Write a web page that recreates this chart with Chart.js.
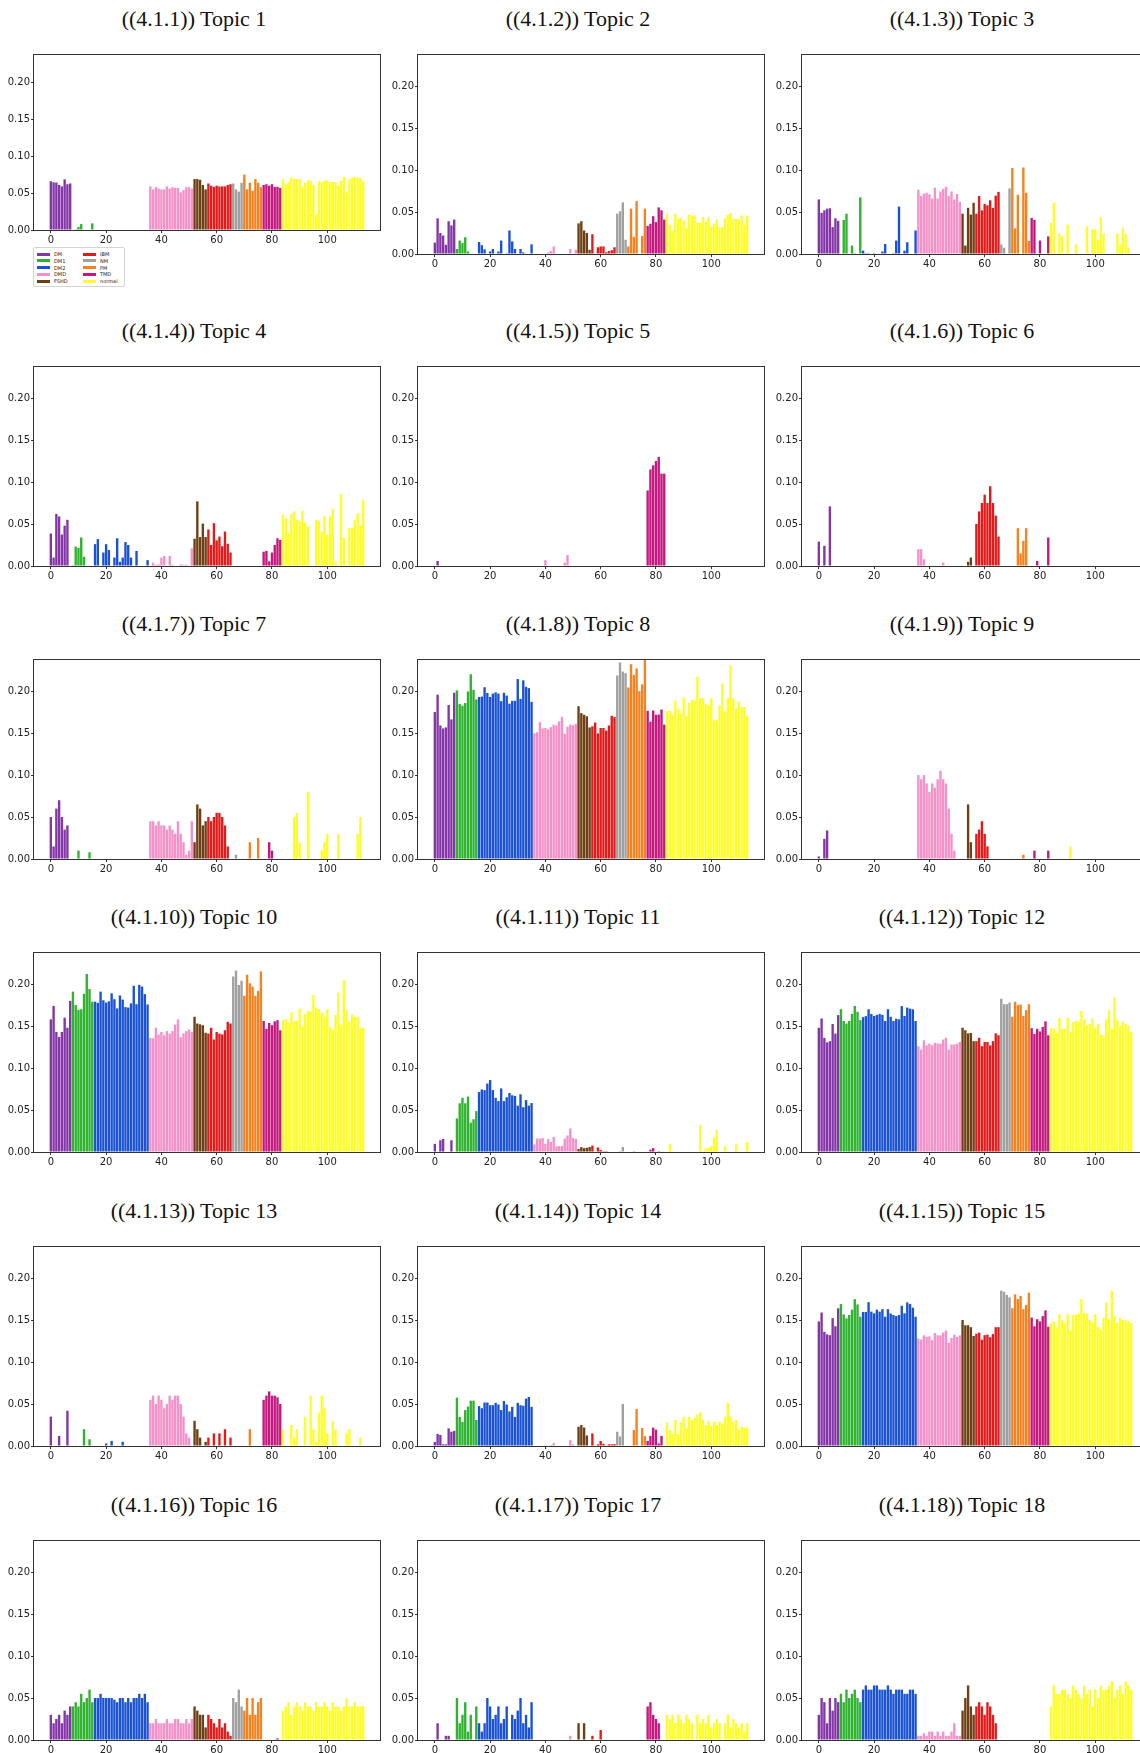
<!DOCTYPE html>
<html>
<head>
<meta charset="utf-8">
<script src="https://cdn.jsdelivr.net/npm/chart.js@4.4.1/dist/chart.umd.min.js"></script>
<style>
  html, body { margin: 0; padding: 0; background: #fff; overflow: hidden; }
  body { position: relative; width: 1140px; height: 1753px; }
  canvas { position: absolute; }
  .title {
    position: absolute; white-space: nowrap; transform: translate(-50%, -50%);
    font-family: 'Liberation Serif', 'DejaVu Serif', serif; font-size: 22px; color: #111;
  }
  .legend {
    position: absolute; left: 33px; top: 247px; width: 92px; height: 40px;
    border: 1px solid #d4d4d4; border-radius: 2px; box-sizing: border-box; background: #fff;
  }
  .legend .sw { position: absolute; width: 13px; height: 3px; }
  .legend .lb {
    position: absolute; font-family: 'DejaVu Sans', sans-serif; font-size: 5px; line-height: 6px; color: #222;
  }
</style>
</head>
<body>
<script>
// ── categories / tick labels ──
const GROUPS      = ['DM', 'DM1', 'DM2', 'DMD', 'FSHD', 'IBM', 'NM', 'PM', 'TMD', 'normal'];
const GROUP_SIZES = [8, 8, 20, 16, 5, 9, 4, 7, 7, 30];
const X_TICKS = [0, 20, 40, 60, 80, 100];
const Y_TICKS = [0, 0.05, 0.10, 0.15, 0.20];
const TITLES = [
  '((4.1.1)) Topic 1', '((4.1.2)) Topic 2', '((4.1.3)) Topic 3',
  '((4.1.4)) Topic 4', '((4.1.5)) Topic 5', '((4.1.6)) Topic 6',
  '((4.1.7)) Topic 7', '((4.1.8)) Topic 8', '((4.1.9)) Topic 9',
  '((4.1.10)) Topic 10', '((4.1.11)) Topic 11', '((4.1.12)) Topic 12',
  '((4.1.13)) Topic 13', '((4.1.14)) Topic 14', '((4.1.15)) Topic 15',
  '((4.1.16)) Topic 16', '((4.1.17)) Topic 17', '((4.1.18)) Topic 18',
];

// ── topic weights per sample (groups in GROUPS order) ──
const topic1 = [
  0.066, 0.0646, 0.0642, 0.061, 0.059, 0.0686, 0.062, 0.063,
  0, 0.001, 0.004, 0.008, 0, 0, 0, 0.009,
  0, 0, 0, 0, 0, 0, 0, 0, 0, 0, 0, 0, 0, 0, 0, 0, 0, 0, 0, 0,
  0.059, 0.055, 0.058, 0.056, 0.055, 0.055, 0.059, 0.056, 0.058, 0.057, 0.057, 0.051, 0.054, 0.058, 0.058, 0.056,
  0.069, 0.069, 0.068, 0.061, 0.055,
  0.063, 0.060, 0.0585, 0.060, 0.059, 0.059, 0.059, 0.061, 0.062,
  0.063, 0.055, 0.052, 0.064,
  0.075, 0.055, 0.064, 0.053, 0.069, 0.064, 0.058,
  0.061, 0.062, 0.060, 0.062, 0.0585, 0.0585, 0.057,
  0.069, 0.062, 0.065, 0.071, 0.069, 0.069, 0.069, 0.058, 0.064, 0.067, 0.067, 0.061, 0.021, 0.066, 0.065,
  0.067, 0.067, 0.065, 0.065, 0.065, 0.060, 0.067, 0.072, 0.051, 0.069, 0.071, 0.072, 0.071, 0.070, 0.066,
];
const topic2 = [
  0.0135, 0.0425, 0.025, 0.022, 0.011, 0.039, 0.034, 0.041,
  0.006, 0.016, 0.013, 0.020, 0.003, 0, 0, 0,
  0.0143, 0.0105, 0.0055, 0, 0.003, 0.006, 0, 0.003, 0.016, 0, 0.001, 0.028, 0.015, 0.006, 0, 0.006, 0.002, 0, 0, 0.0115,
  0, 0, 0, 0, 0, 0.002, 0.0035, 0.009, 0, 0, 0, 0, 0, 0.006, 0, 0.005,
  0.0365, 0.039, 0.028, 0.025, 0.005,
  0.0235, 0, 0.008, 0.009, 0.009, 0.002, 0.0035, 0.0045, 0.008,
  0.048, 0.051, 0.0615, 0.017,
  0.009, 0.054, 0.0205, 0.063, 0, 0.0215, 0.054,
  0.0335, 0.036, 0.045, 0.038, 0.0555, 0.052, 0.041,
  0.048, 0.035, 0.0275, 0.048, 0.042, 0.043, 0.040, 0.031, 0.047, 0.046, 0.046, 0.0375, 0.037, 0.044, 0.039,
  0.044, 0.033, 0.036, 0.041, 0.032, 0.032, 0.043, 0.047, 0.049, 0.042, 0.042, 0.041, 0.046, 0.035, 0.0455,
];
const topic3 = [
  0.065, 0.049, 0.052, 0.054, 0.0545, 0.032, 0.0425, 0.0395,
  0, 0.0405, 0.048, 0, 0.010, 0.001, 0, 0.0675,
  0.004, 0.001, 0.001, 0, 0.001, 0, 0, 0.003, 0.012, 0, 0, 0.001, 0.016, 0.0565, 0, 0.004, 0.014, 0, 0, 0.028,
  0.0765, 0.069, 0.072, 0.073, 0.071, 0.066, 0.079, 0.066, 0.0745, 0.0775, 0.080, 0.069, 0.0745, 0.065, 0.0715, 0.062,
  0.048, 0.010, 0.055, 0.047, 0.061,
  0.048, 0.069, 0.052, 0.0595, 0.058, 0.064, 0.055, 0.0695, 0.074,
  0.0115, 0.0075, 0, 0.078,
  0.1025, 0.0305, 0.0705, 0, 0.103, 0.073, 0.0155,
  0.043, 0.0405, 0, 0.016, 0, 0, 0.021,
  0.037, 0.061, 0, 0.0245, 0.021, 0, 0.035, 0, 0, 0.0115, 0, 0, 0, 0.033, 0,
  0.0295, 0.0295, 0.017, 0.044, 0.0245, 0, 0, 0, 0, 0.0245, 0.0115, 0.0315, 0.024, 0.0075, 0,
];
const topic4 = [
  0.0387, 0.010, 0.062, 0.059, 0.0375, 0.048, 0.055, 0,
  0.001, 0.023, 0.0215, 0.034, 0.011, 0, 0, 0,
  0.026, 0.032, 0, 0.016, 0.026, 0.019, 0, 0.010, 0.033, 0.005, 0.010, 0.0285, 0.025, 0.010, 0, 0.018, 0, 0, 0, 0.007,
  0, 0.004, 0.0015, 0.002, 0.010, 0.012, 0, 0.012, 0.0015, 0, 0, 0.002, 0.0015, 0.0015, 0, 0.021,
  0.0325, 0.077, 0.0345, 0.0505, 0.0345,
  0.0435, 0.025, 0.051, 0.0305, 0.035, 0.0235, 0.041, 0.0265, 0.016,
  0, 0, 0, 0,
  0, 0, 0, 0, 0, 0, 0,
  0.017, 0.018, 0.0055, 0.016, 0.025, 0.033, 0.031,
  0.061, 0.057, 0.0395, 0.062, 0.065, 0.055, 0.054, 0.066, 0.052, 0.047, 0, 0, 0.055, 0.054, 0.0405,
  0.060, 0.037, 0.059, 0.068, 0.0055, 0, 0.0855, 0.0335, 0, 0.0455, 0.0455, 0.055, 0.063, 0.048, 0.079,
];
const topic5 = [
  0, 0.006, 0, 0, 0, 0, 0, 0,
  0, 0, 0, 0, 0, 0, 0, 0,
  0, 0, 0, 0, 0, 0, 0, 0, 0, 0, 0, 0, 0, 0, 0, 0, 0, 0, 0, 0,
  0, 0, 0, 0, 0.007, 0, 0, 0, 0, 0, 0, 0.004, 0.013, 0, 0, 0,
  0, 0, 0, 0, 0,
  0, 0, 0, 0, 0, 0, 0, 0, 0,
  0, 0, 0, 0,
  0, 0, 0, 0, 0, 0, 0,
  0.09, 0.115, 0.12, 0.125, 0.13, 0.11, 0.11,
  0, 0, 0, 0, 0, 0, 0, 0, 0, 0, 0, 0, 0, 0, 0,
  0, 0, 0, 0, 0, 0, 0, 0, 0, 0, 0, 0, 0, 0, 0,
];
const topic6 = [
  0.029, 0, 0.024, 0, 0.071, 0, 0, 0,
  0, 0, 0, 0, 0, 0, 0, 0,
  0, 0, 0, 0, 0, 0, 0, 0, 0, 0, 0, 0, 0, 0, 0, 0, 0, 0, 0, 0,
  0.02, 0.02, 0.008, 0, 0, 0, 0, 0, 0, 0.004, 0, 0, 0, 0, 0, 0,
  0, 0, 0.005, 0.01, 0,
  0.05, 0.065, 0.075, 0.085, 0.075, 0.095, 0.075, 0.06, 0.035,
  0, 0, 0, 0,
  0, 0, 0.045, 0.015, 0.03, 0.045, 0,
  0, 0, 0.006, 0, 0, 0, 0.034,
  0, 0, 0, 0, 0, 0, 0, 0, 0, 0, 0, 0, 0, 0, 0,
  0, 0, 0, 0, 0, 0, 0, 0, 0, 0, 0, 0, 0, 0, 0,
];
const topic7 = [
  0.05, 0.015, 0.06, 0.07, 0.05, 0.035, 0.04, 0,
  0, 0, 0.01, 0, 0, 0, 0.008, 0,
  0, 0, 0, 0, 0, 0, 0, 0, 0, 0, 0, 0, 0, 0, 0, 0, 0, 0, 0, 0,
  0.045, 0.045, 0.04, 0.045, 0.04, 0.04, 0.035, 0.04, 0.035, 0.03, 0.045, 0.03, 0.02, 0.005, 0.01, 0.045,
  0.02, 0.065, 0.06, 0.04, 0.045,
  0.05, 0.045, 0.05, 0.055, 0.055, 0.05, 0.04, 0.015, 0,
  0, 0.005, 0, 0,
  0, 0, 0.02, 0, 0, 0.025, 0,
  0, 0, 0.02, 0.01, 0, 0, 0,
  0, 0, 0, 0, 0.05, 0.055, 0.02, 0, 0, 0.08, 0, 0, 0, 0, 0.01,
  0.02, 0.03, 0, 0, 0, 0.03, 0, 0, 0, 0, 0, 0, 0.03, 0.05, 0,
];
const topic8 = [
  0.175, 0.1957, 0.159, 0.1555, 0.1567, 0.1834, 0.1663, 0.198,
  0.2008, 0.1845, 0.1826, 0.1857, 0.1996, 0.220, 0.2015, 0.190,
  0.193, 0.1934, 0.2046, 0.1977, 0.193, 0.197, 0.1985, 0.197, 0.188, 0.198, 0.1946, 0.185, 0.1884, 0.1884, 0.2143, 0.1907, 0.2128, 0.205, 0.2035, 0.1872,
  0.1497, 0.151, 0.163, 0.1555, 0.156, 0.1543, 0.157, 0.160, 0.159, 0.164, 0.1694, 0.149, 0.1575, 0.160, 0.1594, 0.161,
  0.182, 0.1737, 0.1718, 0.170, 0.1567,
  0.158, 0.1625, 0.1497, 0.156, 0.156, 0.153, 0.159, 0.1706, 0.169,
  0.2186, 0.234, 0.2232, 0.2213,
  0.2043, 0.232, 0.2193, 0.227, 0.200, 0.208, 0.24,
  0.1764, 0.1636, 0.1768, 0.1718, 0.172, 0.178, 0.160,
  0.1764, 0.1764, 0.1718, 0.1888, 0.1787, 0.173, 0.1923, 0.170, 0.1857, 0.1896, 0.1884, 0.217, 0.1915, 0.1915, 0.1845,
  0.1826, 0.1915, 0.165, 0.1663, 0.1826, 0.209, 0.176, 0.1915, 0.2306, 0.1915, 0.180, 0.1876, 0.181, 0.181, 0.1706,
];
const topic9 = [
  0.003, 0, 0.024, 0.034, 0, 0, 0, 0,
  0, 0, 0, 0, 0, 0, 0, 0,
  0, 0, 0, 0, 0, 0, 0, 0, 0, 0, 0, 0, 0, 0, 0, 0, 0, 0, 0, 0,
  0.1, 0.095, 0.1, 0.09, 0.08, 0.09, 0.085, 0.095, 0.105, 0.095, 0.09, 0.06, 0.03, 0.01, 0, 0,
  0, 0, 0.065, 0.02, 0,
  0.03, 0.035, 0.045, 0.03, 0.015, 0, 0, 0, 0,
  0, 0, 0, 0,
  0, 0, 0, 0, 0.005, 0, 0,
  0, 0.01, 0, 0, 0, 0, 0.01,
  0, 0, 0, 0, 0, 0, 0, 0.015, 0, 0, 0, 0, 0, 0, 0,
  0, 0, 0, 0, 0, 0, 0, 0, 0, 0, 0, 0, 0, 0, 0,
];
const topic10 = [
  0.158, 0.174, 0.143, 0.137, 0.143, 0.160, 0.148, 0.180,
  0.191, 0.175, 0.1695, 0.170, 0.1884, 0.212, 0.194, 0.179,
  0.179, 0.1776, 0.191, 0.1807, 0.178, 0.1795, 0.189, 0.182, 0.171, 0.1865, 0.1815, 0.1726, 0.172, 0.177, 0.198, 0.176, 0.199, 0.197, 0.188, 0.1757,
  0.136, 0.1355, 0.148, 0.140, 0.143, 0.139, 0.144, 0.141, 0.144, 0.1517, 0.158, 0.1367, 0.1413, 0.144, 0.146, 0.143,
  0.161, 0.153, 0.152, 0.151, 0.142,
  0.141, 0.148, 0.134, 0.143, 0.141, 0.140, 0.145, 0.155, 0.153,
  0.209, 0.216, 0.199, 0.204,
  0.186, 0.211, 0.201, 0.197, 0.186, 0.192, 0.215,
  0.156, 0.1467, 0.1537, 0.151, 0.1556, 0.157, 0.145,
  0.1575, 0.158, 0.1537, 0.166, 0.156, 0.156, 0.1707, 0.150, 0.1645, 0.168, 0.167, 0.187, 0.172, 0.170, 0.166,
  0.161, 0.170, 0.149, 0.1455, 0.163, 0.1896, 0.1517, 0.2046, 0.1687, 0.1556, 0.164, 0.161, 0.161, 0.148, 0.148,
];
const topic11 = [
  0.0097, 0, 0.014, 0.0155, 0, 0, 0.014, 0,
  0.040, 0.058, 0.0645, 0.058, 0.066, 0.035, 0.039, 0.0487,
  0.0714, 0.0745, 0.0737, 0.0815, 0.0857, 0.0737, 0.0645, 0.0606, 0.0757, 0.0606, 0.0652, 0.0703, 0.0676, 0.0668, 0.0552, 0.0687, 0.0533, 0.0618, 0.0552, 0.0583,
  0.009, 0.016, 0.016, 0.0166, 0.0097, 0.0154, 0.012, 0.0178, 0.0066, 0.007, 0.0073, 0.016, 0.0197, 0.028, 0.0166, 0.0155,
  0.0035, 0.0058, 0.0046, 0.005, 0.006,
  0.0077, 0, 0.0054, 0.0023, 0.001, 0.001, 0, 0, 0,
  0, 0.001, 0.006, 0,
  0, 0, 0.001, 0, 0, 0, 0,
  0, 0.0027, 0.0046, 0, 0.001, 0, 0,
  0, 0.0093, 0, 0, 0, 0, 0, 0, 0, 0, 0, 0, 0.032, 0, 0.0046,
  0.0046, 0.007, 0.0174, 0.0262, 0, 0, 0.007, 0, 0, 0, 0.0093, 0, 0, 0, 0.012,
];
const topic12 = [
  0.148, 0.159, 0.136, 0.1305, 0.132, 0.1525, 0.141, 0.163,
  0.170, 0.156, 0.153, 0.156, 0.1645, 0.174, 0.167, 0.157,
  0.1606, 0.1618, 0.170, 0.1645, 0.162, 0.1633, 0.1645, 0.1633, 0.156, 0.170, 0.161, 0.156, 0.1587, 0.158, 0.1737, 0.162, 0.172, 0.1707, 0.170, 0.156,
  0.126, 0.122, 0.133, 0.127, 0.129, 0.127, 0.130, 0.1293, 0.129, 0.134, 0.136, 0.122, 0.128, 0.128, 0.129, 0.131,
  0.148, 0.145, 0.1413, 0.1417, 0.132,
  0.132, 0.136, 0.126, 0.131, 0.131, 0.127, 0.132, 0.1413, 0.139,
  0.1826, 0.176, 0.176, 0.178,
  0.161, 0.179, 0.175, 0.1757, 0.162, 0.169, 0.176,
  0.1475, 0.1405, 0.1467, 0.1436, 0.149, 0.1556, 0.139,
  0.1475, 0.147, 0.1417, 0.1595, 0.1467, 0.1467, 0.160, 0.143, 0.1544, 0.156, 0.155, 0.168, 0.1583, 0.151, 0.1525,
  0.159, 0.148, 0.1525, 0.140, 0.139, 0.158, 0.169, 0.1467, 0.184, 0.1575, 0.1506, 0.1556, 0.1525, 0.1506, 0.143,
];
const topic13 = [
  0.035, 0, 0, 0.012, 0, 0, 0.042, 0,
  0, 0, 0, 0, 0.02, 0, 0.008, 0,
  0, 0, 0, 0, 0.003, 0, 0.006, 0, 0, 0, 0.005, 0, 0, 0, 0, 0, 0, 0, 0, 0,
  0.055, 0.06, 0.05, 0.06, 0.055, 0.045, 0.05, 0.06, 0.055, 0.06, 0.06, 0.05, 0.035, 0.015, 0.01, 0,
  0.03, 0.02, 0.01, 0, 0.005,
  0.01, 0, 0.015, 0, 0.015, 0, 0.02, 0, 0.01,
  0, 0, 0, 0,
  0, 0, 0.02, 0, 0, 0, 0,
  0.055, 0.06, 0.065, 0.06, 0.06, 0.058, 0.05,
  0.02, 0, 0, 0.025, 0.01, 0.02, 0, 0, 0.035, 0, 0.06, 0.02, 0.005, 0.04, 0.06,
  0.045, 0.015, 0, 0.03, 0.02, 0, 0, 0, 0.015, 0.02, 0, 0, 0, 0.01, 0,
];
const topic14 = [
  0.0047, 0.0144, 0.0132, 0.002, 0.002, 0.021, 0.017, 0.018,
  0.0576, 0.0346, 0.0288, 0.0428, 0.047, 0.054, 0.054, 0.031,
  0.0475, 0.045, 0.0518, 0.0518, 0.0486, 0.0486, 0.0514, 0.0494, 0.0428, 0.0537, 0.0494, 0.0412, 0.0467, 0.0346, 0.0514, 0.0486, 0.048, 0.0564, 0.0584, 0.0467,
  0, 0, 0, 0, 0.001, 0, 0.001, 0.0035, 0, 0, 0, 0, 0, 0.007, 0.002, 0,
  0.023, 0.025, 0.022, 0.0125, 0,
  0.015, 0, 0.002, 0.006, 0.0027, 0, 0.002, 0.002, 0.0023,
  0.017, 0.0113, 0.050, 0,
  0, 0, 0.019, 0.044, 0, 0.0214, 0.0117,
  0.006, 0.012, 0.0218, 0.0195, 0.003, 0.012, 0,
  0.028, 0.019, 0.014, 0.031, 0.0144, 0.028, 0.0346, 0.0214, 0.0346, 0.0315, 0.0335, 0.0377, 0.0405, 0.0315, 0.025,
  0.030, 0.024, 0.029, 0.025, 0.029, 0.0265, 0.035, 0.051, 0.0354, 0.029, 0.031, 0.020, 0.0233, 0.022, 0.022,
];
const topic15 = [
  0.1484, 0.159, 0.136, 0.133, 0.132, 0.1523, 0.1426, 0.164,
  0.169, 0.1566, 0.152, 0.156, 0.1624, 0.1748, 0.1686, 0.154,
  0.1597, 0.1597, 0.1713, 0.160, 0.158, 0.1624, 0.160, 0.163, 0.154, 0.163, 0.1578, 0.156, 0.1547, 0.156, 0.167, 0.158, 0.171, 0.169, 0.1647, 0.154,
  0.128, 0.1267, 0.1318, 0.130, 0.1306, 0.126, 0.1345, 0.1318, 0.1318, 0.135, 0.1376, 0.123, 0.1287, 0.1326, 0.130, 0.1318,
  0.150, 0.1438, 0.1438, 0.1415, 0.131,
  0.1337, 0.135, 0.1267, 0.132, 0.1326, 0.1295, 0.1333, 0.1415, 0.1415,
  0.185, 0.1837, 0.180, 0.177,
  0.164, 0.1806, 0.175, 0.1787, 0.163, 0.168, 0.1826,
  0.153, 0.1426, 0.151, 0.1484, 0.1547, 0.1616, 0.142,
  0.146, 0.1484, 0.141, 0.157, 0.150, 0.1457, 0.157, 0.138, 0.156, 0.1566, 0.158, 0.175, 0.1585, 0.1574, 0.150,
  0.147, 0.157, 0.142, 0.1388, 0.153, 0.171, 0.151, 0.1845, 0.1547, 0.1465, 0.153, 0.150, 0.150, 0.1488, 0.1465,
];
const topic16 = [
  0.03, 0.02, 0.025, 0.03, 0.02, 0.035, 0.03, 0.04,
  0.04, 0.045, 0.04, 0.055, 0.045, 0.05, 0.06, 0.045,
  0.05, 0.05, 0.055, 0.05, 0.05, 0.05, 0.05, 0.048, 0.045, 0.05, 0.05, 0.045, 0.05, 0.045, 0.05, 0.05, 0.055, 0.05, 0.055, 0.045,
  0.02, 0.02, 0.025, 0.02, 0.02, 0.02, 0.025, 0.02, 0.02, 0.025, 0.025, 0.02, 0.02, 0.025, 0.02, 0.025,
  0.04, 0.035, 0.03, 0.03, 0.015,
  0.03, 0.025, 0.02, 0.015, 0.025, 0.015, 0.02, 0.01, 0.005,
  0.05, 0.045, 0.06, 0.04,
  0.035, 0.05, 0.03, 0.05, 0.03, 0.045, 0.05,
  0, 0, 0, 0, 0, 0.002, 0,
  0.035, 0.04, 0.045, 0.03, 0.04, 0.045, 0.04, 0.035, 0.045, 0.04, 0.04, 0.035, 0.045, 0.04, 0.04,
  0.045, 0.04, 0.035, 0.045, 0.04, 0.04, 0.035, 0.04, 0.05, 0.04, 0.04, 0.045, 0.04, 0.04, 0.04,
];
const topic17 = [
  0, 0.02, 0, 0, 0.005, 0.005, 0, 0,
  0.05, 0.02, 0.03, 0.045, 0.01, 0.03, 0, 0.04,
  0.02, 0.01, 0.02, 0.05, 0.04, 0.025, 0.03, 0.04, 0.02, 0.025, 0.04, 0, 0.03, 0.025, 0.035, 0.05, 0.02, 0.03, 0.015, 0.045,
  0, 0, 0, 0, 0, 0, 0, 0, 0, 0, 0, 0, 0, 0.005, 0, 0,
  0.02, 0, 0.02, 0, 0,
  0.005, 0, 0, 0.012, 0, 0, 0, 0, 0,
  0, 0, 0, 0,
  0, 0, 0, 0, 0, 0, 0,
  0.04, 0.045, 0.03, 0.025, 0.02, 0, 0,
  0.03, 0.025, 0.03, 0.02, 0.03, 0.025, 0.02, 0.03, 0.025, 0.02, 0, 0.03, 0.02, 0.025, 0.02,
  0.03, 0.015, 0.02, 0.025, 0.02, 0, 0.02, 0.03, 0.015, 0.025, 0.02, 0.015, 0.02, 0.01, 0.02,
];
const topic18 = [
  0.03, 0.05, 0.045, 0.02, 0.05, 0.035, 0.05, 0.045,
  0.055, 0.045, 0.06, 0.05, 0.055, 0.06, 0.05, 0.045,
  0.06, 0.065, 0.06, 0.06, 0.065, 0.065, 0.06, 0.06, 0.06, 0.065, 0.06, 0.055, 0.06, 0.06, 0.06, 0.055, 0.055, 0.06, 0.06, 0.055,
  0.005, 0.005, 0.008, 0.005, 0.01, 0.01, 0.005, 0.01, 0.005, 0.01, 0.005, 0.005, 0.01, 0.02, 0.005, 0.005,
  0.035, 0.05, 0.065, 0.04, 0.03,
  0.04, 0.045, 0.04, 0.03, 0.045, 0.04, 0.03, 0.02, 0,
  0, 0, 0, 0,
  0, 0, 0, 0, 0, 0, 0,
  0, 0, 0, 0, 0, 0, 0,
  0.04, 0.065, 0.055, 0.055, 0.06, 0.06, 0.055, 0.05, 0.065, 0.06, 0.055, 0.05, 0.065, 0.055, 0.06,
  0.04, 0.06, 0.05, 0.065, 0.06, 0.06, 0.065, 0.07, 0.05, 0.06, 0.065, 0.055, 0.07, 0.065, 0.06,
];
const TOPICS = [topic1, topic2, topic3, topic4, topic5, topic6, topic7, topic8, topic9,
                topic10, topic11, topic12, topic13, topic14, topic15, topic16, topic17, topic18];

// ── look ──
const GROUP_COLORS = {
  DM: '#8435a8', DM1: '#2db32d', DM2: '#1a52d6', DMD: '#f690c8', FSHD: '#6e3f12',
  IBM: '#e41a1a', NM: '#a0a0a0', PM: '#f5821f', TMD: '#c4187f', normal: '#fdfd2a',
};
const X_MIN = -6.09, X_MAX = 119.09, Y_MAX = 0.237;
const AX_LEFT = [34, 418, 802];
const AX_TOP  = [50, 362, 655, 948, 1242, 1536];
const AX_W = 346, AX_H = 204;
const Y_AXIS_W = 34, X_AXIS_H = 22, PAD = 2;

const barColors = GROUPS.flatMap((g, k) => Array(GROUP_SIZES[k]).fill(GROUP_COLORS[g]));

// spines on all four sides, like matplotlib
const framePlugin = {
  id: 'frame',
  afterDraw(chart) {
    const { ctx, chartArea: a } = chart;
    ctx.save();
    ctx.strokeStyle = '#333';
    ctx.lineWidth = 1;
    ctx.strokeRect(a.left - 0.5, a.top - 0.5, a.right - a.left + 1, a.bottom - a.top + 1);
    ctx.restore();
  },
};

const TICK_FONT = { family: "'DejaVu Sans', sans-serif", size: 10 };

function makePanel(idx) {
  const col = idx % 3, row = Math.floor(idx / 3);
  const axH = idx === 0 ? 180 : AX_H;
  const left = AX_LEFT[col], top = AX_TOP[row];

  const canvas = document.createElement('canvas');
  canvas.width  = Y_AXIS_W + AX_W + PAD;
  canvas.height = PAD + axH + X_AXIS_H;
  canvas.style.left = (left - Y_AXIS_W) + 'px';
  canvas.style.top  = (top - PAD) + 'px';
  document.body.appendChild(canvas);

  const title = document.createElement('div');
  title.className = 'title';
  title.textContent = TITLES[idx];
  title.style.left = (left + 160) + 'px';
  title.style.top  = (top - 31) + 'px';
  document.body.appendChild(title);

  new Chart(canvas, {
    type: 'bar',
    data: {
      datasets: [{
        data: TOPICS[idx].map((v, i) => ({ x: i, y: v })),
        backgroundColor: barColors,
        borderWidth: 0,
        barPercentage: 0.86,
        categoryPercentage: 1,
      }],
    },
    options: {
      responsive: false,
      animation: false,
      devicePixelRatio: 1,
      layout: { padding: { top: PAD, right: PAD, left: 0, bottom: 0 } },
      plugins: { legend: { display: false }, tooltip: { enabled: false } },
      scales: {
        x: {
          type: 'linear', min: X_MIN, max: X_MAX, offset: false,
          grid: { display: true, drawOnChartArea: false, drawTicks: true, tickLength: 3, color: '#333', offset: false },
          border: { display: false },
          ticks: { font: TICK_FONT, color: '#222', padding: 1, maxRotation: 0, autoSkip: false, callback: v => String(v) },
          afterBuildTicks: ax => { ax.ticks = X_TICKS.map(v => ({ value: v })); },
          afterFit: ax => { ax.height = X_AXIS_H; },
        },
        y: {
          min: 0, max: Y_MAX,
          grid: { display: true, drawOnChartArea: false, drawTicks: true, tickLength: 3, color: '#333' },
          border: { display: false },
          ticks: { font: TICK_FONT, color: '#222', padding: 1, autoSkip: false, callback: v => v.toFixed(2) },
          afterBuildTicks: ax => { ax.ticks = Y_TICKS.map(v => ({ value: v })); },
          afterFit: ax => { ax.width = Y_AXIS_W; },
        },
      },
    },
    plugins: [framePlugin],
  });
}

TOPICS.forEach((_, i) => makePanel(i));

// ── legend under panel 1 (two columns, filled column-wise) ──
const legend = document.createElement('div');
legend.className = 'legend';
GROUPS.forEach((g, k) => {
  const c = Math.floor(k / 5), r = k % 5;
  const sw = document.createElement('div');
  sw.className = 'sw';
  sw.style.background = GROUP_COLORS[g];
  sw.style.left = (3 + c * 46) + 'px';
  sw.style.top  = (4.5 + r * 6.8) + 'px';
  const lb = document.createElement('div');
  lb.className = 'lb';
  lb.textContent = g;
  lb.style.left = (20 + c * 46) + 'px';
  lb.style.top  = (3 + r * 6.8) + 'px';
  legend.appendChild(sw);
  legend.appendChild(lb);
});
document.body.appendChild(legend);
</script>
</body>
</html>
